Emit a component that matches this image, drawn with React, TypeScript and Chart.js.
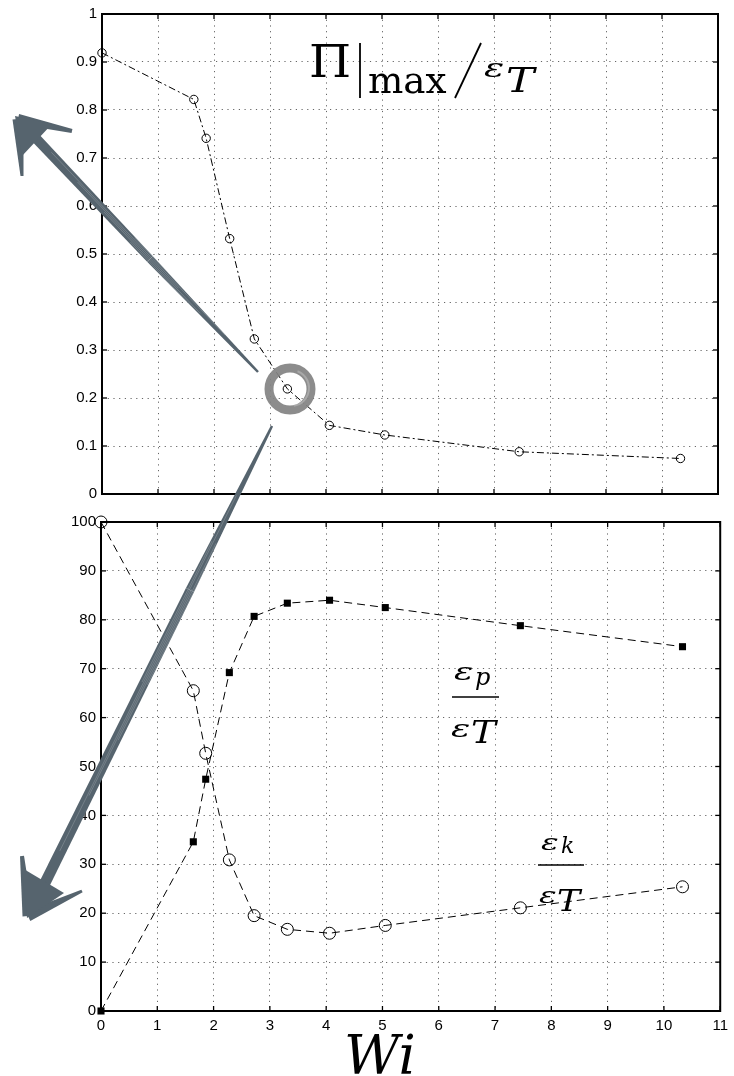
import React, { useEffect, useRef } from "react";
import { Chart, registerables } from "chart.js";

Chart.register(...registerables);

// Weissenberg number of each run
const wiValues = [0, 1.64, 1.86, 2.28, 2.72, 3.31, 4.06, 5.05, 7.45, 10.33];
// peak polymer power normalised by the total energy
const piMaxRatio = [0.919, 0.822, 0.741, 0.532, 0.323, 0.219, 0.143, 0.123, 0.088, 0.074];
// kinetic share of the total energy (%)
const kineticShare = [100, 65.5, 52.7, 30.9, 19.5, 16.7, 15.9, 17.5, 21.1, 25.4];
// polymer potential share of the total energy (%)
const potentialShare = [0, 34.6, 47.4, 69.2, 80.7, 83.4, 84.0, 82.5, 78.8, 74.5];

const xTickValues = [0, 1, 2, 3, 4, 5, 6, 7, 8, 9, 10, 11];
const piTickValues = [0, 0.1, 0.2, 0.3, 0.4, 0.5, 0.6, 0.7, 0.8, 0.9, 1];
const shareTickValues = [0, 10, 20, 30, 40, 50, 60, 70, 80, 90, 100];

const TICK_FONT = { family: '"Liberation Sans", Arial, sans-serif', size: 15 };
const SERIF = '"DejaVu Serif", "Liberation Serif", serif';

type Pt = { x: number; y: number };
const pairs = (ys: number[]): Pt[] => wiValues.map((x, i) => ({ x, y: ys[i] }));

function drawText(ctx: CanvasRenderingContext2D, text: string, x: number, y: number, font: string, sx = 1) {
  ctx.save();
  ctx.font = font;
  ctx.fillStyle = "#000";
  ctx.textBaseline = "alphabetic";
  ctx.textAlign = "left";
  ctx.translate(x, y);
  ctx.scale(sx, 1);
  ctx.fillText(text, 0, 0);
  ctx.restore();
}

function seg(ctx: CanvasRenderingContext2D, x1: number, y1: number, x2: number, y2: number, w: number) {
  ctx.lineWidth = w;
  ctx.beginPath();
  ctx.moveTo(x1, y1);
  ctx.lineTo(x2, y2);
  ctx.stroke();
}

// Box around the axes with inward tick marks on all four sides
const framePlugin = {
  id: "boxFrame",
  afterDraw(chart: any) {
    const { ctx, chartArea: a, scales } = chart;
    ctx.save();
    ctx.strokeStyle = "#000";
    ctx.lineCap = "butt";
    const tl = 5;
    scales.x.ticks.forEach((t: any) => {
      const x = scales.x.getPixelForValue(t.value);
      seg(ctx, x, a.bottom, x, a.bottom - tl, 1.3);
      seg(ctx, x, a.top, x, a.top + tl, 1.3);
    });
    scales.y.ticks.forEach((t: any) => {
      const y = scales.y.getPixelForValue(t.value);
      seg(ctx, a.left, y, a.left + tl, y, 1.3);
      seg(ctx, a.right, y, a.right - tl, y, 1.3);
    });
    ctx.lineWidth = 2;
    ctx.strokeRect(a.left, a.top, a.right - a.left, a.bottom - a.top);
    ctx.restore();
  },
};

// Formula inside the upper panel
const piLabelPlugin = {
  id: "piLabel",
  afterDraw(chart: any) {
    const ctx = chart.ctx as CanvasRenderingContext2D;
    drawText(ctx, "Π", 309, 77, `44px ${SERIF}`, 1.1);
    ctx.save();
    ctx.strokeStyle = "#000";
    seg(ctx, 360, 43, 360, 98, 1.8);
    ctx.restore();
    drawText(ctx, "max", 368, 93, `38px ${SERIF}`, 0.98);
    ctx.save();
    ctx.strokeStyle = "#000";
    seg(ctx, 481, 43, 455, 98, 1.8);
    ctx.restore();
    drawText(ctx, "ε", 484, 77, `italic 26px ${SERIF}`, 1.45);
    drawText(ctx, "T", 506, 92, `italic 34px ${SERIF}`, 1.25);
  },
};

// Fractions and axis name in the lower panel (canvas starts at page y = 508)
const OFF = 508;
const shareLabelPlugin = {
  id: "shareLabels",
  afterDraw(chart: any) {
    const ctx = chart.ctx as CanvasRenderingContext2D;
    // potential share
    drawText(ctx, "ε", 454, 680 - OFF, `italic 24px ${SERIF}`, 1.5);
    drawText(ctx, "p", 475, 685 - OFF, `italic 24px ${SERIF}`, 1.0);
    ctx.save();
    ctx.strokeStyle = "#000";
    seg(ctx, 452, 697 - OFF, 499, 697 - OFF, 1.5);
    ctx.restore();
    drawText(ctx, "ε", 451, 737 - OFF, `italic 24px ${SERIF}`, 1.5);
    drawText(ctx, "T", 471, 743 - OFF, `italic 31px ${SERIF}`, 1.2);
    // kinetic share
    drawText(ctx, "ε", 541, 850 - OFF, `italic 22px ${SERIF}`, 1.5);
    drawText(ctx, "k", 561, 853 - OFF, `italic 22px ${SERIF}`, 1.0);
    ctx.save();
    ctx.strokeStyle = "#000";
    seg(ctx, 538, 865 - OFF, 584, 865 - OFF, 1.5);
    ctx.restore();
    drawText(ctx, "ε", 539, 903 - OFF, `italic 22px ${SERIF}`, 1.5);
    drawText(ctx, "T", 557, 911 - OFF, `italic 29px ${SERIF}`, 1.2);
    // horizontal axis name
    drawText(ctx, "Wi", 344, 1074 - OFF, `italic 54px ${SERIF}`, 1.0);
  },
};

const gridOpts = { color: "#666", lineWidth: 1, drawTicks: false };
const borderOpts = { display: false, dash: [1.2, 4.5] };

function fixedTicks(values: number[]) {
  return (s: any) => {
    s.ticks = values.map((v) => ({ value: v }));
  };
}

const fmt = (v: any) => String(+Number(v).toFixed(2));

function makeTopConfig(): any {
  return {
    type: "line",
    data: {
      datasets: [
        {
          data: pairs(piMaxRatio),
          borderColor: "#000",
          borderWidth: 1,
          borderDash: [7, 3, 2, 3],
          pointStyle: "circle",
          pointRadius: 4.2,
          pointBorderWidth: 1,
          pointBorderColor: "#000",
          pointBackgroundColor: "rgba(0,0,0,0)",
          tension: 0,
          clip: false,
        },
      ],
    },
    options: {
      animation: false,
      responsive: false,
      devicePixelRatio: 1,
      events: [],
      layout: { padding: { top: 10, right: 16, left: 0, bottom: 0 } },
      plugins: { legend: { display: false }, tooltip: { enabled: false } },
      scales: {
        x: {
          type: "linear",
          min: 0,
          max: 11,
          afterBuildTicks: fixedTicks(xTickValues),
          afterFit: (s: any) => {
            s.height = 11;
          },
          ticks: { display: false },
          grid: gridOpts,
          border: borderOpts,
        },
        y: {
          type: "linear",
          min: 0,
          max: 1,
          afterBuildTicks: fixedTicks(piTickValues),
          afterFit: (s: any) => {
            s.width = 102;
          },
          ticks: { color: "#000", font: TICK_FONT, padding: 5, callback: fmt },
          grid: gridOpts,
          border: borderOpts,
        },
      },
    },
    plugins: [framePlugin, piLabelPlugin],
  };
}

function makeBottomConfig(): any {
  return {
    type: "line",
    data: {
      datasets: [
        {
          data: pairs(kineticShare),
          borderColor: "#000",
          borderWidth: 1,
          borderDash: [8, 5],
          pointStyle: "circle",
          pointRadius: 6,
          pointBorderWidth: 1,
          pointBorderColor: "#000",
          pointBackgroundColor: "rgba(0,0,0,0)",
          tension: 0,
          clip: false,
        },
        {
          data: pairs(potentialShare),
          borderColor: "#000",
          borderWidth: 1,
          borderDash: [8, 5],
          pointStyle: "rect",
          pointRadius: 5,
          pointBorderWidth: 0,
          pointBorderColor: "#000",
          pointBackgroundColor: "#000",
          tension: 0,
          clip: false,
        },
      ],
    },
    options: {
      animation: false,
      responsive: false,
      devicePixelRatio: 1,
      events: [],
      layout: { padding: { top: 11, right: 10, left: 0, bottom: 0 } },
      plugins: { legend: { display: false }, tooltip: { enabled: false } },
      scales: {
        x: {
          type: "linear",
          min: 0,
          max: 11,
          afterBuildTicks: fixedTicks(xTickValues),
          afterFit: (s: any) => {
            s.height = 65;
          },
          ticks: { color: "#000", font: TICK_FONT, padding: 6, maxRotation: 0, callback: fmt },
          grid: gridOpts,
          border: borderOpts,
        },
        y: {
          type: "linear",
          min: 0,
          max: 100,
          afterBuildTicks: fixedTicks(shareTickValues),
          afterFit: (s: any) => {
            s.width = 101;
          },
          ticks: { color: "#000", font: TICK_FONT, padding: 5, callback: fmt },
          grid: gridOpts,
          border: borderOpts,
        },
      },
    },
    plugins: [framePlugin, shareLabelPlugin],
  };
}

// Tapered brush stroke between two points
function brush(ctx: CanvasRenderingContext2D, x1: number, y1: number, x2: number, y2: number, w1: number, w2: number) {
  const dx = x2 - x1;
  const dy = y2 - y1;
  const len = Math.hypot(dx, dy);
  const nx = -dy / len;
  const ny = dx / len;
  ctx.beginPath();
  ctx.moveTo(x1 + (nx * w1) / 2, y1 + (ny * w1) / 2);
  ctx.lineTo(x2 + (nx * w2) / 2, y2 + (ny * w2) / 2);
  ctx.lineTo(x2 - (nx * w2) / 2, y2 - (ny * w2) / 2);
  ctx.lineTo(x1 - (nx * w1) / 2, y1 - (ny * w1) / 2);
  ctx.closePath();
  ctx.fill();
}

function streaks(ctx: CanvasRenderingContext2D, x1: number, y1: number, x2: number, y2: number, offsets: number[]) {
  const dx = x2 - x1;
  const dy = y2 - y1;
  const len = Math.hypot(dx, dy);
  const nx = -dy / len;
  const ny = dx / len;
  ctx.save();
  ctx.strokeStyle = "rgba(255,255,255,0.3)";
  ctx.lineWidth = 0.6;
  offsets.forEach((o, i) => {
    const a = 0.15 + 0.1 * (i % 3);
    const b = 0.55 + 0.12 * (i % 4);
    ctx.beginPath();
    ctx.moveTo(x1 + dx * a + nx * o, y1 + dy * a + ny * o);
    ctx.lineTo(x1 + dx * b + nx * o, y1 + dy * b + ny * o);
    ctx.stroke();
  });
  ctx.restore();
}

function drawSketch(ctx: CanvasRenderingContext2D) {
  ctx.clearRect(0, 0, 734, 1076);
  // ring round the transition point
  ctx.save();
  ctx.strokeStyle = "rgba(130,130,130,0.92)";
  ctx.lineWidth = 9;
  ctx.beginPath();
  ctx.arc(290, 389, 21, 0, Math.PI * 2);
  ctx.stroke();
  ctx.strokeStyle = "rgba(180,180,180,0.7)";
  ctx.lineWidth = 2;
  ctx.beginPath();
  ctx.arc(291, 388, 18, -1.2, 1.4);
  ctx.stroke();
  ctx.restore();

  ctx.save();
  ctx.fillStyle = "#56646e";
  ctx.strokeStyle = "#56646e";
  ctx.lineCap = "round";
  // upper arrow
  brush(ctx, 258, 372, 150, 259, 2.5, 8);
  brush(ctx, 150, 259, 30, 132, 8, 10);
  brush(ctx, 18, 119, 72, 131, 10, 4);
  brush(ctx, 18, 119, 22, 176, 11, 3);
  ctx.beginPath();
  ctx.moveTo(15, 116);
  ctx.lineTo(52, 124);
  ctx.lineTo(22, 156);
  ctx.closePath();
  ctx.fill();
  streaks(ctx, 258, 372, 30, 132, [-3, -1.5, 0, 1.5, 3]);
  // lower arrow
  brush(ctx, 272, 426, 190, 590, 2.5, 9);
  brush(ctx, 190, 590, 40, 893, 9, 11);
  brush(ctx, 28, 916, 22, 856, 11, 4);
  brush(ctx, 28, 916, 82, 891, 11, 3);
  ctx.beginPath();
  ctx.moveTo(27, 918);
  ctx.lineTo(22, 868);
  ctx.lineTo(64, 893);
  ctx.closePath();
  ctx.fill();
  streaks(ctx, 272, 426, 40, 893, [-3.5, -2, -0.5, 1, 2.5]);
  ctx.restore();
}

export default function App() {
  const topRef = useRef<HTMLCanvasElement>(null);
  const bottomRef = useRef<HTMLCanvasElement>(null);
  const sketchRef = useRef<HTMLCanvasElement>(null);

  useEffect(() => {
    const top = new Chart(topRef.current as HTMLCanvasElement, makeTopConfig());
    const bottom = new Chart(bottomRef.current as HTMLCanvasElement, makeBottomConfig());
    const sctx = sketchRef.current?.getContext("2d");
    if (sctx) drawSketch(sctx);
    return () => {
      top.destroy();
      bottom.destroy();
    };
  }, []);

  return (
    <div style={{ position: "absolute", left: 0, top: 0, width: 734, height: 1076, background: "#fff", overflow: "hidden" }}>
      <canvas ref={topRef} width={734} height={508} style={{ position: "absolute", left: 0, top: 0, width: 734, height: 508 }} />
      <canvas ref={bottomRef} width={734} height={568} style={{ position: "absolute", left: 0, top: OFF, width: 734, height: 568 }} />
      <canvas
        ref={sketchRef}
        width={734}
        height={1076}
        style={{ position: "absolute", left: 0, top: 0, width: 734, height: 1076, pointerEvents: "none" }}
      />
    </div>
  );
}
